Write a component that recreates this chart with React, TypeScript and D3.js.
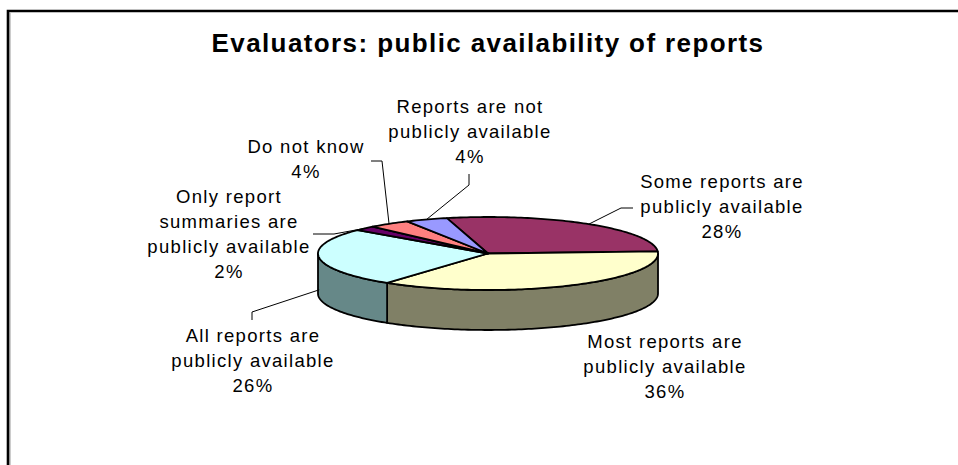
import React from "react";
import * as d3 from "d3";

const categories = [
  "Some reports are publicly available",
  "Most reports are publicly available",
  "All reports are publicly available",
  "Only report summaries are publicly available",
  "Do not know",
  "Reports are not publicly available",
];
const values = [28, 36, 26, 2, 4, 4];
const labelLines = [
  ["Some reports are", "publicly available", "28%"],
  ["Most reports are", "publicly available", "36%"],
  ["All reports are", "publicly available", "26%"],
  ["Only report", "summaries are", "publicly available", "2%"],
  ["Do not know", "4%"],
  ["Reports are not", "publicly available", "4%"],
];
const topColors = ["#993366", "#FFFFCC", "#CCFFFF", "#660066", "#FF8080", "#9999FF"];
const sideColors = ["#4D1A33", "#808066", "#668888", "#330033", "#804040", "#4D4D80"];

const W = 958;
const H = 465;
const cx = 488;
const cy = 253.5;
const rx = 170;
const ry = 36.5;
const depth = 40;
const startDeg = -14;

// label layout: center x, first baseline y, and leader elbow points
const labelPos = [
  { x: 722, y: 188, elbow: [[633, 208], [621, 208]] },
  { x: 665, y: 348, elbow: null },
  { x: 253, y: 342, elbow: [[252, 320], [252, 312]] },
  { x: 229, y: 203, elbow: [[313, 234], [334, 234]] },
  { x: 306, y: 153, elbow: [[371, 161], [382, 161]] },
  { x: 470, y: 113, elbow: [[469, 174], [469, 185]] },
];
const lineH = 25;

function pt(a: number, dy = 0): [number, number] {
  return [cx + rx * Math.sin(a), cy - ry * Math.cos(a) + dy];
}

function arcPts(a0: number, a1: number, dy = 0): [number, number][] {
  const n = Math.max(2, Math.ceil(Math.abs(a1 - a0) / 0.02));
  return d3.range(n + 1).map((i) => pt(a0 + ((a1 - a0) * i) / n, dy));
}

export default function App() {
  const pie = d3
    .pie<number>()
    .sort(null)
    .startAngle((startDeg * Math.PI) / 180)
    .endAngle((startDeg * Math.PI) / 180 + 2 * Math.PI);
  const arcs = pie(values);
  const line = d3.line();

  const walls: JSX.Element[] = [];
  arcs.forEach((a, i) => {
    for (const k of [0, 1]) {
      const fLo = Math.PI / 2 + (k === 1 ? -2 * Math.PI : 0);
      const fHi = fLo + Math.PI;
      const s = Math.max(a.startAngle, fLo);
      const e = Math.min(a.endAngle, fHi);
      if (e > s + 1e-6) {
        const top = arcPts(s, e);
        const bot = arcPts(e, s, depth);
        walls.push(
          <path
            key={`w${i}-${k}`}
            d={line([...top, ...bot])! + "Z"}
            fill={sideColors[i]}
            stroke="#000"
            strokeWidth={1.8}
            strokeLinejoin="round"
          />
        );
      }
    }
  });

  const tops = arcs.map((a, i) => {
    const pts: [number, number][] = [[cx, cy], ...arcPts(a.startAngle, a.endAngle)];
    return (
      <path
        key={`t${i}`}
        d={line(pts)! + "Z"}
        fill={topColors[i]}
        stroke="#000"
        strokeWidth={1.8}
        strokeLinejoin="round"
      />
    );
  });

  const leaders = arcs.map((a, i) => {
    const lp = labelPos[i];
    if (!lp.elbow) return null;
    const mid = (a.startAngle + a.endAngle) / 2;
    const front = Math.cos(mid) < 0;
    const end = pt(mid, front ? depth * 0.8 : 0);
    const pts = [...(lp.elbow as [number, number][]), end];
    return <path key={`l${i}`} d={line(pts)!} fill="none" stroke="#000" strokeWidth={1} />;
  });

  const labels = labelLines.map((lines, i) => (
    <text
      key={`lb${i}`}
      x={labelPos[i].x}
      y={labelPos[i].y}
      textAnchor="middle"
      fontFamily="'Liberation Sans', Arial, sans-serif"
      fontSize={18.5}
      letterSpacing={1.3}
      fill="#000"
    >
      {lines.map((t, j) => (
        <tspan key={j} x={labelPos[i].x} dy={j === 0 ? 0 : lineH}>
          {t}
        </tspan>
      ))}
    </text>
  ));

  return (
    <svg
      width={W}
      height={H}
      style={{ position: "absolute", left: 0, top: 0, background: "#fff" }}
    >
      <rect x={0} y={0} width={W} height={H} fill="#fff" />
      <path d={`M10,${H + 5}V13`} stroke="#999" strokeWidth={1} fill="none" />
      <path d={`M8,${H + 5}V11H${W + 5}`} stroke="#000" strokeWidth={2.6} fill="none" />
      <text
        x={488}
        y={52}
        textAnchor="middle"
        fontFamily="'Liberation Sans', Arial, sans-serif"
        fontWeight="bold"
        fontSize={26}
        letterSpacing={1.4}
        fill="#000"
      >
        Evaluators: public availability of reports
      </text>
      {walls}
      {tops}
      {leaders}
      {labels}
    </svg>
  );
}
